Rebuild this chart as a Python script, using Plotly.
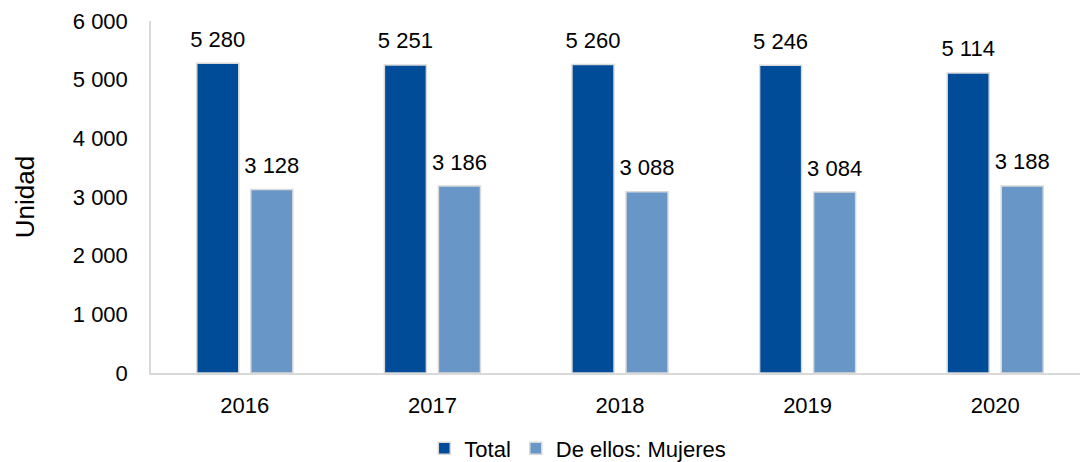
import plotly.graph_objects as go

# Data
years = ['2016', '2017', '2018', '2019', '2020']
total = [5280, 5251, 5260, 5246, 5114]
mujeres = [3128, 3186, 3088, 3084, 3188]

idx = list(range(len(years)))
bar_w = 0.224
shift = 0.144

dark_blue = 'rgb(0, 76, 153)'
light_blue = 'rgb(104, 151, 199)'
border = 'rgb(217, 217, 217)'
font = dict(family='Liberation Sans, Arial, sans-serif', size=22, color='black')

fig = go.Figure()

fig.add_trace(go.Bar(
    x=idx, y=total, name='Total',
    width=bar_w, offset=-shift - bar_w / 2,
    marker=dict(color=dark_blue, line=dict(color=border, width=1.5)),
))
fig.add_trace(go.Bar(
    x=idx, y=mujeres, name='De ellos: Mujeres',
    width=bar_w, offset=shift - bar_w / 2,
    marker=dict(color=light_blue, line=dict(color=border, width=1.5)),
))

# value labels above the bars
for vals, sgn in [(total, -1), (mujeres, 1)]:
    fig.add_trace(go.Scatter(
        x=[i + sgn * shift for i in idx], y=vals,
        mode='markers+text', marker=dict(size=16, opacity=0),
        texttemplate='%{y:,d}', textposition='top center',
        textfont=font, showlegend=False, hoverinfo='skip', cliponaxis=False,
    ))

fig.update_layout(
    width=1080, height=462,
    margin=dict(l=151, r=0, t=21, b=89, autoexpand=False),
    paper_bgcolor='white', plot_bgcolor='white',
    font=font,
    separators=', ',
    barmode='overlay',
    xaxis=dict(
        range=[-0.5, 4.452],
        tickvals=idx, ticktext=years,
        showgrid=False, zeroline=False,
        showline=True, linecolor=border, linewidth=1.5,
        ticks='', ticklabelstandoff=12, automargin=False,
    ),
    yaxis=dict(
        range=[0, 6000], dtick=1000, tickformat=',d',
        showgrid=False, zeroline=False,
        showline=True, linecolor=border, linewidth=1.5,
        ticks='', ticklabelstandoff=17, automargin=False,
        title=dict(text='Unidad', standoff=31),
    ),
    legend=dict(
        orientation='h', xref='container', yref='paper',
        x=0.535, xanchor='center', y=-0.155, yanchor='top',
        font=font, itemwidth=30,
    ),
)

fig.write_html('out.html', config={'displayModeBar': False},
               post_script="document.body.style.margin='0';")
